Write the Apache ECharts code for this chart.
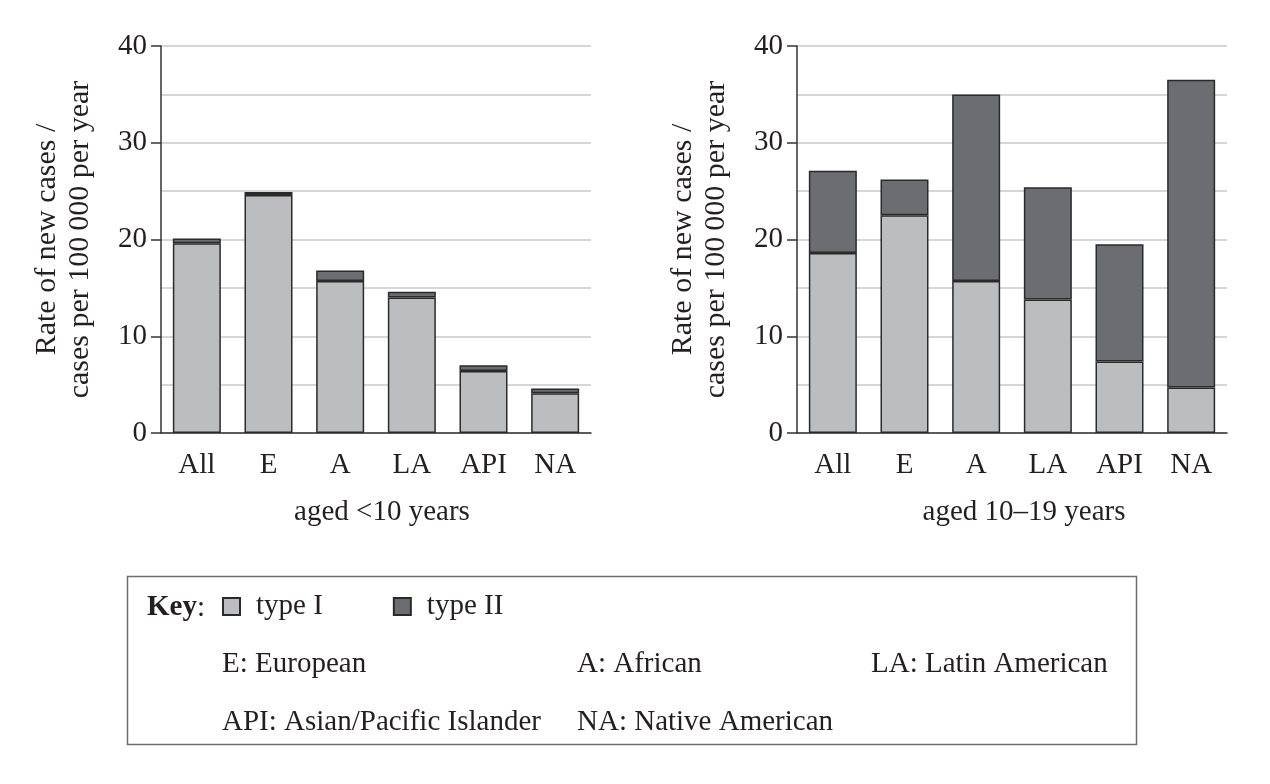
<!DOCTYPE html>
<html><head><meta charset="utf-8">
<script src="https://cdn.jsdelivr.net/npm/echarts@6/dist/echarts.min.js"></script>
<style>html,body{margin:0;padding:0;background:#fff}#c{width:1270px;height:784px}</style>
</head><body><div id="c"></div>
<script>
const categories = ['All', 'E', 'A', 'LA', 'API', 'NA'];
const under10TypeI  = [19.6, 24.6, 15.7, 14.0, 6.4, 4.1];
const under10TypeII = [0.5, 0.3, 1.1, 0.6, 0.6, 0.5];
const teenTypeI  = [18.6, 22.5, 15.7, 13.8, 7.4, 4.7];
const teenTypeII = [8.5, 3.7, 19.3, 11.6, 12.1, 31.8];
const yTicks = [0, 10, 20, 30, 40];
const seriesNames = ['type I', 'type II'];
const panelTitles = ['aged <10 years', 'aged 10\u201319 years'];
const yAxisTitle = 'Rate of new cases /\ncases per 100\u2009000 per year';
const keyRow1 = ['E: European', 'A: African', 'LA: Latin American'];
const keyRow2 = ['API: Asian/Pacific Islander', 'NA: Native American'];

const FONT = '"Liberation Serif","DejaVu Serif",serif';
const FS = 29;
const TXT = '#231f20';
const C1 = '#bcbdbf', C2 = '#6c6d70', EDGE = '#2a2a2a';

function xAx(i){return {type:'category',gridIndex:i,data:categories,
  axisLine:{lineStyle:{color:'#333',width:1.5}},
  axisTick:{alignWithLabel:true,length:8,lineStyle:{color:'#333',width:1.5}},
  axisLabel:{color:TXT,fontFamily:FONT,fontSize:FS,margin:18}};}
function yAx(i){return {type:'value',gridIndex:i,min:0,max:40,interval:10,
  name:yAxisTitle,nameLocation:'middle',nameRotate:90,nameGap:64,
  nameTextStyle:{color:TXT,fontFamily:FONT,fontSize:30,lineHeight:33},
  axisLine:{show:true,lineStyle:{color:'#333',width:1.5}},
  axisTick:{show:true,length:10,lineStyle:{color:'#333',width:1.5}},
  axisLabel:{color:TXT,fontFamily:FONT,fontSize:FS,margin:14,
    formatter:v=>yTicks.includes(v)?String(v):''},
  splitLine:{show:true,lineStyle:{color:'#c9c9c9',width:1.5}},
  minorTick:{show:false,splitNumber:2},
  minorSplitLine:{show:true,lineStyle:{color:'#c9c9c9',width:1.5}}};}
function bar(name,data,i,color){return {name,type:'bar',stack:'s'+i,xAxisIndex:i,yAxisIndex:i,
  data,barWidth:48,itemStyle:{color,borderColor:EDGE,borderWidth:1.5}};}

function txt(x,y,t,align,weight){return {type:'text',style:{x,y,text:t,
  font:(weight?weight+' ':'')+FS+'px '+FONT,fill:TXT,align:align||'left',verticalAlign:'middle'}};}
const graphics = [
  txt(382,512,panelTitles[0],'center'),
  txt(1024,512,panelTitles[1],'center'),
  {type:'rect',shape:{x:127.5,y:576.5,width:1009,height:168},style:{fill:'none',stroke:'#6e6e6e',lineWidth:1.5}},
  txt(147,608,'Key','left','bold'),
  txt(197,608,':')
];
const rowX = [222, 577, 871];
keyRow1.forEach((t,k)=>graphics.push(txt(rowX[k],664,t)));
keyRow2.forEach((t,k)=>graphics.push(txt(rowX[k],722,t)));

const chart = echarts.init(document.getElementById('c'));
chart.setOption({
  animation:false,
  backgroundColor:'#fff',
  legend:{left:222,top:592,padding:0,itemWidth:17,itemHeight:17,itemGap:70,icon:'rect',
    data:seriesNames,
    textStyle:{color:TXT,fontFamily:FONT,fontSize:FS,padding:[0,0,0,11]}},
  grid:[{left:161,top:46,width:430,height:387},{left:797,top:46,width:430,height:387}],
  xAxis:[xAx(0),xAx(1)],
  yAxis:[yAx(0),yAx(1)],
  series:[bar(seriesNames[0],under10TypeI,0,C1),bar(seriesNames[1],under10TypeII,0,C2),
          bar(seriesNames[0],teenTypeI,1,C1),bar(seriesNames[1],teenTypeII,1,C2)],
  graphic:graphics
});
</script></body></html>
